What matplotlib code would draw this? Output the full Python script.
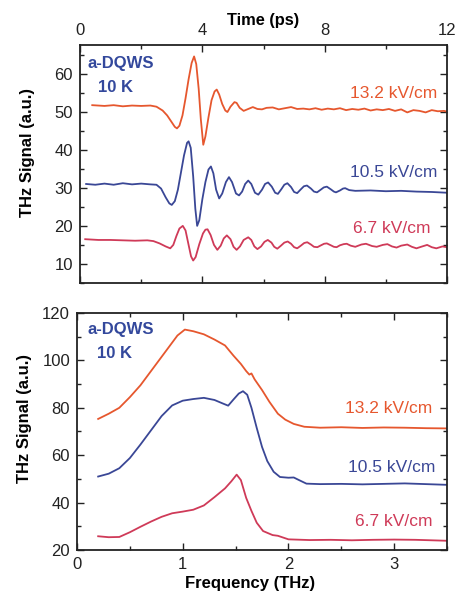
import numpy as np
import matplotlib
matplotlib.use("Agg")
import matplotlib.pyplot as plt
from matplotlib.ticker import MultipleLocator

plt.rcParams['font.family'] = ['Liberation Sans', 'DejaVu Sans']

# time-domain traces (ps, a.u.)
t_132 = [0.4, 0.8, 1.1, 1.4, 1.7, 2.0, 2.3, 2.5, 2.7, 2.85, 3.0, 3.1, 3.17, 3.25, 3.35, 3.45, 3.55,
         3.65, 3.73, 3.8, 3.88, 3.95, 4.03, 4.1, 4.2, 4.3, 4.4, 4.47, 4.55, 4.65, 4.75, 4.82, 4.92,
         5.05, 5.12, 5.22, 5.35, 5.5, 5.65, 5.8, 5.95, 6.1, 6.3, 6.5, 6.7, 6.9, 7.1, 7.3, 7.5, 7.7,
         7.9, 8.1, 8.3, 8.5, 8.7, 8.9, 9.1, 9.3, 9.5, 9.7, 9.9, 10.1, 10.3, 10.5, 10.7, 10.9, 11.1,
         11.3, 11.5, 11.7, 11.9, 12.0]
s_132 = [51.7, 51.5, 51.7, 51.4, 51.6, 51.5, 51.6, 51.3, 50.3, 49.0, 47.2, 46.0, 45.6, 46.3, 49.0,
         53.5, 58.5, 62.8, 64.5, 62.5, 56.0, 48.0, 41.3, 43.5, 48.5, 53.0, 55.3, 55.8, 54.5, 52.0,
         50.3, 49.9, 51.3, 52.5, 52.3, 51.0, 50.2, 50.7, 51.2, 50.7, 50.6, 51.0, 51.1, 50.6, 50.9,
         51.2, 50.7, 50.8, 50.6, 50.9, 50.5, 50.8, 50.6, 50.9, 50.4, 50.7, 50.5, 50.8, 50.3, 50.6,
         50.4, 50.7, 50.2, 50.6, 49.8, 50.4, 50.2, 49.8, 50.4, 50.1, 50.2, 50.0]

t_105 = [0.2, 0.5, 0.8, 1.1, 1.4, 1.7, 2.0, 2.3, 2.5, 2.65, 2.8, 2.92, 3.0, 3.1, 3.2, 3.3, 3.4, 3.5,
         3.55, 3.62, 3.7, 3.77, 3.83, 3.9, 4.0, 4.1, 4.2, 4.28, 4.36, 4.45, 4.55, 4.65, 4.77, 4.87,
         4.97, 5.1, 5.2, 5.3, 5.4, 5.5, 5.6, 5.72, 5.83, 5.95, 6.05, 6.15, 6.27, 6.38, 6.47, 6.58,
         6.68, 6.78, 6.9, 7.0, 7.1, 7.22, 7.32, 7.42, 7.55, 7.65, 7.75, 7.87, 7.97, 8.07, 8.2, 8.3,
         8.37, 8.5, 8.6, 8.67, 8.8, 9.0, 9.5, 10.0, 10.5, 11.0, 11.5, 12.0]
s_105 = [31.0, 30.8, 31.1, 30.8, 31.2, 30.9, 31.1, 30.9, 30.8, 29.8, 27.5, 25.9, 25.5, 26.5, 29.5,
         34.0, 38.5, 41.8, 42.2, 40.5, 33.0, 24.5, 20.0, 21.5, 27.0, 31.5, 34.8, 35.6, 33.8, 29.5,
         27.2, 28.5, 31.5, 32.8, 31.5, 28.5, 28.0, 29.0, 31.0, 31.9, 31.0, 28.7, 28.2, 29.5, 31.0,
         31.4, 30.3, 28.7, 28.4, 29.6, 30.8, 31.2, 30.2, 28.9, 28.6, 29.6, 30.4, 30.6, 29.8, 29.0,
         28.8, 29.5, 30.1, 30.3, 29.6, 29.0, 28.8, 29.3, 29.8, 29.9, 29.4, 29.2, 29.3, 29.1, 29.2,
         29.0, 28.9, 28.7]

t_67 = [0.17, 0.6, 1.0, 1.4, 1.8, 2.2, 2.4, 2.6, 2.8, 2.95, 3.05, 3.15, 3.25, 3.36, 3.45, 3.55, 3.63,
        3.7, 3.78, 3.9, 4.02, 4.1, 4.17, 4.27, 4.38, 4.49, 4.6, 4.7, 4.8, 4.92, 5.02, 5.12, 5.23,
        5.35, 5.5, 5.6, 5.7, 5.8, 5.92, 6.03, 6.14, 6.26, 6.35, 6.45, 6.57, 6.68, 6.79, 6.9, 7.0,
        7.1, 7.22, 7.33, 7.43, 7.55, 7.65, 7.76, 7.88, 7.98, 8.07, 8.2, 8.3, 8.39, 8.5, 8.62, 8.72,
        8.85, 9.0, 9.2, 9.35, 9.55, 9.7, 9.9, 10.05, 10.2, 10.35, 10.5, 10.7, 10.85, 11.0, 11.15,
        11.35, 11.5, 11.65, 11.85, 12.0]
s_67 = [16.5, 16.3, 16.3, 16.2, 16.1, 16.2, 16.0, 15.4, 14.6, 14.1, 15.0, 17.3, 19.3, 20.0, 18.8,
        15.0, 12.0, 10.9, 11.8, 15.2, 18.0, 19.0, 19.1, 17.6, 15.0, 13.7, 14.8, 16.7, 17.5, 16.5,
        14.5, 13.7, 14.6, 16.3, 17.0, 16.3, 14.6, 13.9, 14.6, 15.8, 16.3, 15.6, 14.5, 14.0, 14.8,
        15.6, 15.9, 15.3, 14.4, 14.1, 14.8, 15.5, 15.7, 15.1, 14.5, 14.4, 14.9, 15.3, 15.4, 14.9,
        14.5, 14.4, 14.9, 15.2, 15.3, 14.8, 14.5, 15.1, 15.3, 14.7, 14.5, 15.0, 15.2, 14.6, 14.3,
        14.8, 15.1, 14.5, 14.1, 14.5, 15.0, 14.4, 14.1, 14.6, 14.4]

# spectra (THz, a.u.)
f_132 = [0.2, 0.3, 0.4, 0.5, 0.6, 0.7, 0.8, 0.9, 0.95, 1.02, 1.1, 1.2, 1.3, 1.4, 1.48, 1.55, 1.6,
         1.63, 1.65, 1.68, 1.75, 1.82, 1.9, 1.97, 2.05, 2.15, 2.3, 2.5, 2.7, 2.9, 3.1, 3.3, 3.5]
a_132 = [75.3, 77.5, 80.0, 84.5, 89.5, 95.5, 101.5, 107.5, 110.5, 113.0, 112.3, 111.0, 108.8, 106.3,
         102.0, 98.5, 95.5, 94.0, 94.5, 92.0, 87.5, 82.5, 77.5, 75.0, 73.2, 72.0, 71.6, 71.8, 71.5,
         71.7, 71.6, 71.4, 71.3]

f_105 = [0.2, 0.3, 0.4, 0.5, 0.6, 0.7, 0.8, 0.9, 1.0, 1.1, 1.2, 1.3, 1.38, 1.43, 1.48, 1.53, 1.57,
         1.61, 1.65, 1.7, 1.75, 1.8, 1.86, 1.92, 2.0, 2.05, 2.1, 2.17, 2.3, 2.5, 2.7, 2.9, 3.1, 3.3, 3.5]
a_105 = [51.0, 52.2, 54.5, 58.8, 64.5, 70.5, 76.5, 81.0, 83.0, 83.7, 84.2, 83.3, 81.8, 80.9, 83.5,
         86.0, 87.0, 85.5, 80.0, 71.5, 63.5, 57.5, 53.0, 50.8, 50.5, 50.6, 49.5, 48.0, 47.8, 47.9,
         47.7, 47.9, 48.1, 47.8, 47.5]

f_67 = [0.2, 0.3, 0.4, 0.5, 0.6, 0.7, 0.8, 0.9, 1.0, 1.1, 1.2, 1.3, 1.4, 1.46, 1.51, 1.55, 1.6,
        1.65, 1.7, 1.76, 1.85, 1.9, 2.0, 2.2, 2.4, 2.6, 2.8, 3.0, 3.2, 3.5]
a_67 = [25.8, 25.4, 25.5, 27.5, 29.8, 32.0, 34.0, 35.5, 36.2, 37.0, 38.8, 42.3, 46.0, 49.0, 51.8,
        49.5, 42.0, 36.5, 31.5, 28.0, 26.3, 26.0, 24.5, 24.2, 24.3, 24.1, 24.3, 24.4, 24.3, 23.9]

labels = ["13.2 kV/cm", "10.5 kV/cm", "6.7 kV/cm"]
colors = ["#E6572E", "#3A4796", "#CF3A58"]
label_blue = "#33489C"

fig = plt.figure(figsize=(4.62, 5.93), dpi=100)
ax1 = fig.add_axes([0.1732, 0.5228, 0.7944, 0.4013])
ax2 = fig.add_axes([0.1667, 0.0725, 0.8009, 0.3997])

for ax in (ax1, ax2):
    ax.tick_params(which="both", direction="in", top=True, right=True, width=1.0,
                   labelsize=12, pad=5, colors="#222222")
    ax.tick_params(which="major", length=5)
    ax.tick_params(which="minor", length=3)
    for sp in ax.spines.values():
        sp.set_linewidth(1.3)
        sp.set_color("#222222")

# top: time domain
ax1.plot(t_132, s_132, color=colors[0], lw=1.3)
ax1.plot(t_105, s_105, color=colors[1], lw=1.3)
ax1.plot(t_67, s_67, color=colors[2], lw=1.3)
ax1.set_xlim(0, 12)
ax1.set_ylim(5, 67.5)
ax1.xaxis.set_major_locator(MultipleLocator(4))
ax1.xaxis.set_minor_locator(MultipleLocator(2))
ax1.yaxis.set_major_locator(MultipleLocator(10))
ax1.yaxis.set_minor_locator(MultipleLocator(5))
ax1.set_yticks([10, 20, 30, 40, 50, 60])
ax1.tick_params(axis="x", labeltop=True, labelbottom=False)
ax1.xaxis.set_label_position("top")
ax1.set_xlabel("Time (ps)", fontsize=11.8, fontweight="bold")
ax1.xaxis.set_label_coords(0.499, 1.082)
ax1.set_ylabel("THz Signal (a.u.)", fontsize=12, fontweight="bold")
ax1.yaxis.set_label_coords(-0.122, 0.55)
ax1.text(0.23, 62.6, "a-DQWS", color=label_blue, fontsize=12, fontweight="bold", va="center")
ax1.text(0.59, 56.3, "10 K", color=label_blue, fontsize=12, fontweight="bold", va="center")
ax1.text(11.67, 54.7, labels[0], color=colors[0], fontsize=12.5, ha="right", va="center")
ax1.text(11.67, 34.0, labels[1], color=colors[1], fontsize=12.5, ha="right", va="center")
ax1.text(11.45, 19.2, labels[2], color=colors[2], fontsize=12.5, ha="right", va="center")

# bottom: spectra
ax2.plot(f_132, a_132, color=colors[0], lw=1.3)
ax2.plot(f_105, a_105, color=colors[1], lw=1.3)
ax2.plot(f_67, a_67, color=colors[2], lw=1.3)
ax2.set_xlim(0, 3.5)
ax2.set_ylim(20, 120)
ax2.xaxis.set_major_locator(MultipleLocator(1))
ax2.xaxis.set_minor_locator(MultipleLocator(0.5))
ax2.yaxis.set_major_locator(MultipleLocator(20))
ax2.yaxis.set_minor_locator(MultipleLocator(10))
ax2.set_xlabel("Frequency (THz)", fontsize=12, fontweight="bold")
ax2.xaxis.set_label_coords(0.468, -0.108)
ax2.set_ylabel("THz Signal (a.u.)", fontsize=12, fontweight="bold")
ax2.yaxis.set_label_coords(-0.122, 0.553)
ax2.text(0.095, 113.2, "a-DQWS", color=label_blue, fontsize=12, fontweight="bold", va="center")
ax2.text(0.19, 103.1, "10 K", color=label_blue, fontsize=12, fontweight="bold", va="center")
ax2.text(3.36, 79.5, labels[0], color=colors[0], fontsize=12.5, ha="right", va="center")
ax2.text(3.39, 54.9, labels[1], color=colors[1], fontsize=12.5, ha="right", va="center")
ax2.text(3.36, 32.2, labels[2], color=colors[2], fontsize=12.5, ha="right", va="center")

fig.savefig("out.png", dpi=100)
